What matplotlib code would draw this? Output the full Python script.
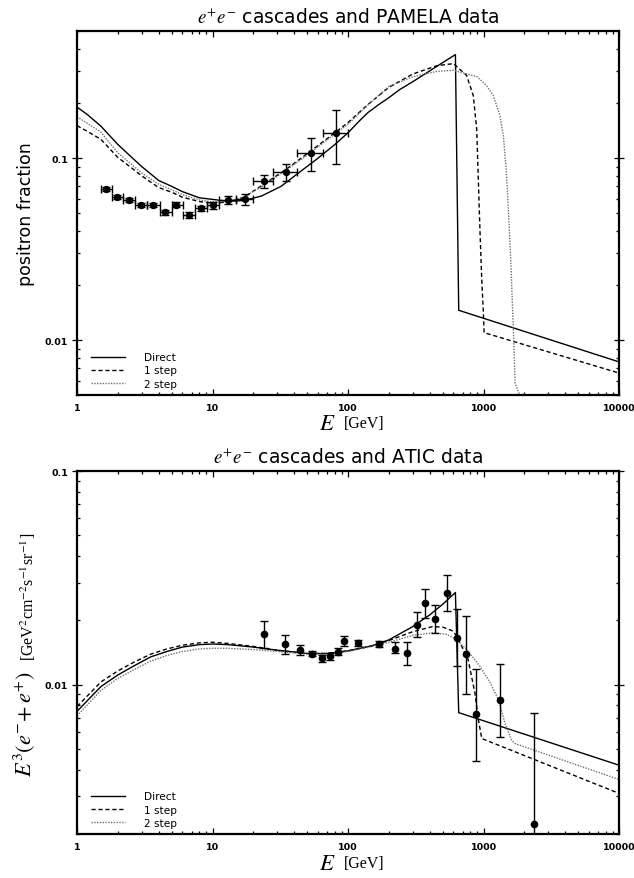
import matplotlib
matplotlib.use("Agg")
import matplotlib.pyplot as plt
from matplotlib.ticker import LogLocator, FuncFormatter, NullFormatter
import numpy as np

plt.rcParams["mathtext.fontset"] = "stix"

# PAMELA positron fraction: bin centre, bin edges, value, error
pam_e = [1.63, 1.98, 2.42, 2.98, 3.66, 4.48, 5.41, 6.75, 8.23, 10.1, 13.1, 17.4, 23.9, 34.7, 53.1, 81.5]
pam_lo = [1.5, 1.8, 2.2, 2.7, 3.3, 4.1, 5.0, 6.1, 7.4, 9.1, 11.2, 15.0, 20.0, 28.0, 42.0, 65.0]
pam_hi = [1.8, 2.2, 2.7, 3.3, 4.1, 5.0, 6.1, 7.4, 9.1, 11.2, 15.0, 20.0, 28.0, 42.0, 65.0, 100.0]
pam_f = [0.0677, 0.0612, 0.0587, 0.0555, 0.0555, 0.0504, 0.0556, 0.0487,
         0.0530, 0.0551, 0.0587, 0.0594, 0.0750, 0.0837, 0.1066, 0.138]
pam_err = [0.0015, 0.0015, 0.0015, 0.0015, 0.0015, 0.0015, 0.0016, 0.0017,
           0.0018, 0.0022, 0.0030, 0.0040, 0.0060, 0.0090, 0.0220, 0.0450]

# positron fraction from the three cascade models
frac_direct_e = [1, 1.2, 1.5, 2, 2.5, 3, 4, 5, 6, 8, 10, 13, 17, 23, 32, 45, 60, 80, 100, 120,
                 140, 170, 200, 240, 300, 450, 620, 656, 10000]
frac_direct = [0.191, 0.173, 0.150, 0.119, 0.102, 0.090, 0.0755, 0.070, 0.0655, 0.0606, 0.0594,
               0.058, 0.0585, 0.062, 0.070, 0.085, 0.100, 0.119, 0.138, 0.159, 0.178, 0.198,
               0.215, 0.238, 0.263, 0.319, 0.371, 0.0146, 0.0076]
frac_step1_e = [1, 1.2, 1.5, 2, 2.5, 3, 4, 5, 6, 8, 10, 13, 17, 24, 35, 50, 70, 100, 140, 200,
                300, 450, 600, 750, 840, 890, 915, 940, 970, 997, 1010, 10000]
frac_step1 = [0.151, 0.140, 0.127, 0.101, 0.089, 0.080, 0.069, 0.065, 0.061, 0.0578, 0.0565,
              0.0575, 0.061, 0.072, 0.087, 0.106, 0.128, 0.157, 0.197, 0.245, 0.29, 0.322,
              0.331, 0.285, 0.221, 0.145, 0.077, 0.041, 0.0216, 0.0142, 0.011, 0.0066]
frac_step2_e = [1, 1.2, 1.5, 2, 2.5, 3, 4, 5, 6, 8, 10, 13, 17, 24, 35, 50, 70, 100, 140, 200,
                300, 450, 600, 900, 1050, 1180, 1320, 1400, 1470, 1530, 1590, 1660, 1710, 1850]
frac_step2 = [0.169, 0.155, 0.139, 0.107, 0.093, 0.083, 0.072, 0.067, 0.063, 0.059, 0.0575,
              0.058, 0.061, 0.071, 0.086, 0.104, 0.126, 0.154, 0.196, 0.248, 0.28, 0.30,
              0.304, 0.28, 0.251, 0.221, 0.172, 0.133, 0.087, 0.050, 0.027, 0.0115, 0.0058,
              0.005]

# ATIC electron + positron flux times E^3, with lower/upper error limits
atic_e = [23.9, 34.1, 44.0, 54.2, 64.3, 74.0, 83.9, 93.9, 119, 170, 221, 271, 321, 372, 441,
          540, 637, 739, 880, 1324, 2360]
atic_flux = [0.0172, 0.01546, 0.01455, 0.01398, 0.01329, 0.01358, 0.01429, 0.01604, 0.0157,
             0.01553, 0.01471, 0.01403, 0.01913, 0.02408, 0.02034, 0.02683, 0.01662, 0.01394,
             0.00731, 0.0085, 0.00222]
atic_low = [0.01486, 0.01398, 0.01383, 0.0136, 0.0128, 0.0131, 0.0138, 0.01524, 0.0152, 0.0150,
            0.0140, 0.01241, 0.01667, 0.02056, 0.01748, 0.0222, 0.01219, 0.00907, 0.0044,
            0.00572, 0.001]
atic_high = [0.0198, 0.0170, 0.0153, 0.0144, 0.0138, 0.0141, 0.0148, 0.01686, 0.0162, 0.0161,
             0.0158, 0.0158, 0.0219, 0.0281, 0.02368, 0.0325, 0.0225, 0.0209, 0.01185, 0.0125,
             0.0074]

# E^3 flux from the three cascade models
flux_direct_e = [1, 1.5, 2, 2.6, 3.5, 4.6, 6, 8, 10, 13, 20, 30, 50, 70, 100, 150, 200, 300, 400,
                 500, 620, 656, 10000]
flux_direct = [0.0075, 0.0098, 0.0111, 0.0122, 0.0135, 0.0143, 0.0150, 0.0154, 0.0155, 0.0154,
               0.0150, 0.0145, 0.0140, 0.0140, 0.0144, 0.0152, 0.0162, 0.0187, 0.0212, 0.0238,
               0.0270, 0.0074, 0.0042]
flux_step1_e = [1, 1.5, 2, 2.6, 3.5, 4.6, 6, 8, 10, 13, 20, 30, 50, 70, 100, 150, 200, 300, 420,
                500, 600, 670, 770, 865, 915, 970, 1120, 10000]
flux_step1 = [0.0079, 0.0103, 0.0116, 0.0127, 0.0139, 0.0147, 0.0153, 0.0157, 0.0158, 0.0156,
              0.0151, 0.0145, 0.0140, 0.0140, 0.0144, 0.0152, 0.0161, 0.0177, 0.0187, 0.0186,
              0.0178, 0.0157, 0.0131, 0.0091, 0.0069, 0.0056, 0.0054, 0.0031]
flux_step2_e = [1, 1.5, 2, 2.6, 3.5, 4.6, 6, 8, 10, 13, 20, 30, 50, 70, 100, 150, 200, 300, 420,
                535, 630, 750, 940, 1120, 1290, 1440, 1610, 1710, 10000]
flux_step2 = [0.00715, 0.0094, 0.0107, 0.0117, 0.0129, 0.0137, 0.0143, 0.0147, 0.0148, 0.0148,
              0.0146, 0.0143, 0.0139, 0.0139, 0.0143, 0.0151, 0.0158, 0.0170, 0.0175, 0.0172,
              0.0163, 0.0146, 0.0122, 0.0102, 0.0085, 0.0066, 0.0055, 0.0053, 0.0036]

model_names = ["Direct", "1 step", "2 step"]


def style_axes(ax, ymin, ymax):
    ax.set_xscale("log")
    ax.set_yscale("log")
    ax.set_xlim(1, 1e4)
    ax.set_ylim(ymin, ymax)
    ax.xaxis.set_major_locator(LogLocator(base=10))
    ax.xaxis.set_minor_locator(LogLocator(base=10, subs=range(2, 10)))
    ax.yaxis.set_major_locator(LogLocator(base=10))
    ax.yaxis.set_minor_locator(LogLocator(base=10, subs=range(2, 10)))
    ax.xaxis.set_major_formatter(FuncFormatter(lambda v, p: "%d" % round(v)))
    ax.yaxis.set_major_formatter(FuncFormatter(lambda v, p: "%g" % v))
    ax.xaxis.set_minor_formatter(NullFormatter())
    ax.yaxis.set_minor_formatter(NullFormatter())
    ax.tick_params(which="both", direction="in", top=True, right=True, width=0.9)
    ax.tick_params(axis="x", which="major", length=4.5, pad=5.5)
    ax.tick_params(axis="x", which="minor", length=2.5)
    ax.tick_params(axis="y", which="major", direction="inout", length=6.5, pad=3)
    ax.tick_params(axis="y", which="minor", length=2.5)
    for lab in ax.get_xticklabels() + ax.get_yticklabels():
        lab.set_fontsize(6.8)
        lab.set_fontweight("bold")
    for s in ax.spines.values():
        s.set_linewidth(1.6)


def draw_models(ax, curves):
    styles = [dict(color="black", ls="-"),
              dict(color="black", ls=(0, (3, 2))),
              dict(color="#707070", ls=(0, (1, 1)))]
    for (x, y), name, st in zip(curves, model_names, styles):
        ax.plot(x, y, lw=1.0, label=name, **st)
    ax.legend(loc="lower left", bbox_to_anchor=(0.015, 0.0), frameon=False, fontsize=7.6,
              handlelength=3.2, handletextpad=1.8, labelspacing=0.3, borderaxespad=0.2)


def energy_label(fig, y):
    fig.text(327 / 634, y, r"$E$", fontsize=16.5, ha="center", va="center")
    fig.text(344 / 634, y, "[GeV]", fontsize=11.5, family="Liberation Serif", ha="left", va="center")


fig = plt.figure(figsize=(6.34, 8.79), dpi=100)

# upper panel: positron fraction
ax1 = fig.add_axes([0.1215, 0.5495, 0.8549, 0.4141])
draw_models(ax1, [(frac_direct_e, frac_direct), (frac_step1_e, frac_step1), (frac_step2_e, frac_step2)])
xerr = [np.array(pam_e) - np.array(pam_lo), np.array(pam_hi) - np.array(pam_e)]
ax1.errorbar(pam_e, pam_f, xerr=xerr, yerr=pam_err, fmt="o", color="black", ms=4.3,
             elinewidth=1, capsize=3, capthick=1)
style_axes(ax1, 0.005, 0.5)
ax1.set_title(r"$e^{+}e^{-}$ cascades and PAMELA data", fontsize=13.5, pad=6)
fig.text(26.5 / 634, 1 - 214 / 879, "positron fraction", fontsize=12.5, rotation=90,
         ha="center", va="center")
energy_label(fig, 1 - 424 / 879)

# lower panel: electron + positron flux
ax2 = fig.add_axes([0.1215, 0.0500, 0.8549, 0.4130])
draw_models(ax2, [(flux_direct_e, flux_direct), (flux_step1_e, flux_step1), (flux_step2_e, flux_step2)])
flux = np.array(atic_flux)
yerr = [flux - np.array(atic_low), np.array(atic_high) - flux]
ax2.errorbar(atic_e, atic_flux, yerr=yerr, fmt="o", color="black", ms=4.5,
             elinewidth=1, capsize=3, capthick=1)
style_axes(ax2, 0.002, 0.1)
ax2.set_title(r"$e^{+}e^{-}$ cascades and ATIC data", fontsize=13.5, pad=6)
fig.text(24 / 634, 1 - 724 / 879, r"$E^3(e^{-}\!+e^{+})$", fontsize=16, rotation=90,
         ha="center", va="center")
fig.text(28 / 634, 1 - 597 / 879, r"[GeV$^2$cm$^{-2}$s$^{-1}$sr$^{-1}$]", fontsize=11.5,
         family="Liberation Serif", rotation=90, ha="center", va="center")
energy_label(fig, 1 - 864 / 879)

fig.savefig("out.png", dpi=100)
